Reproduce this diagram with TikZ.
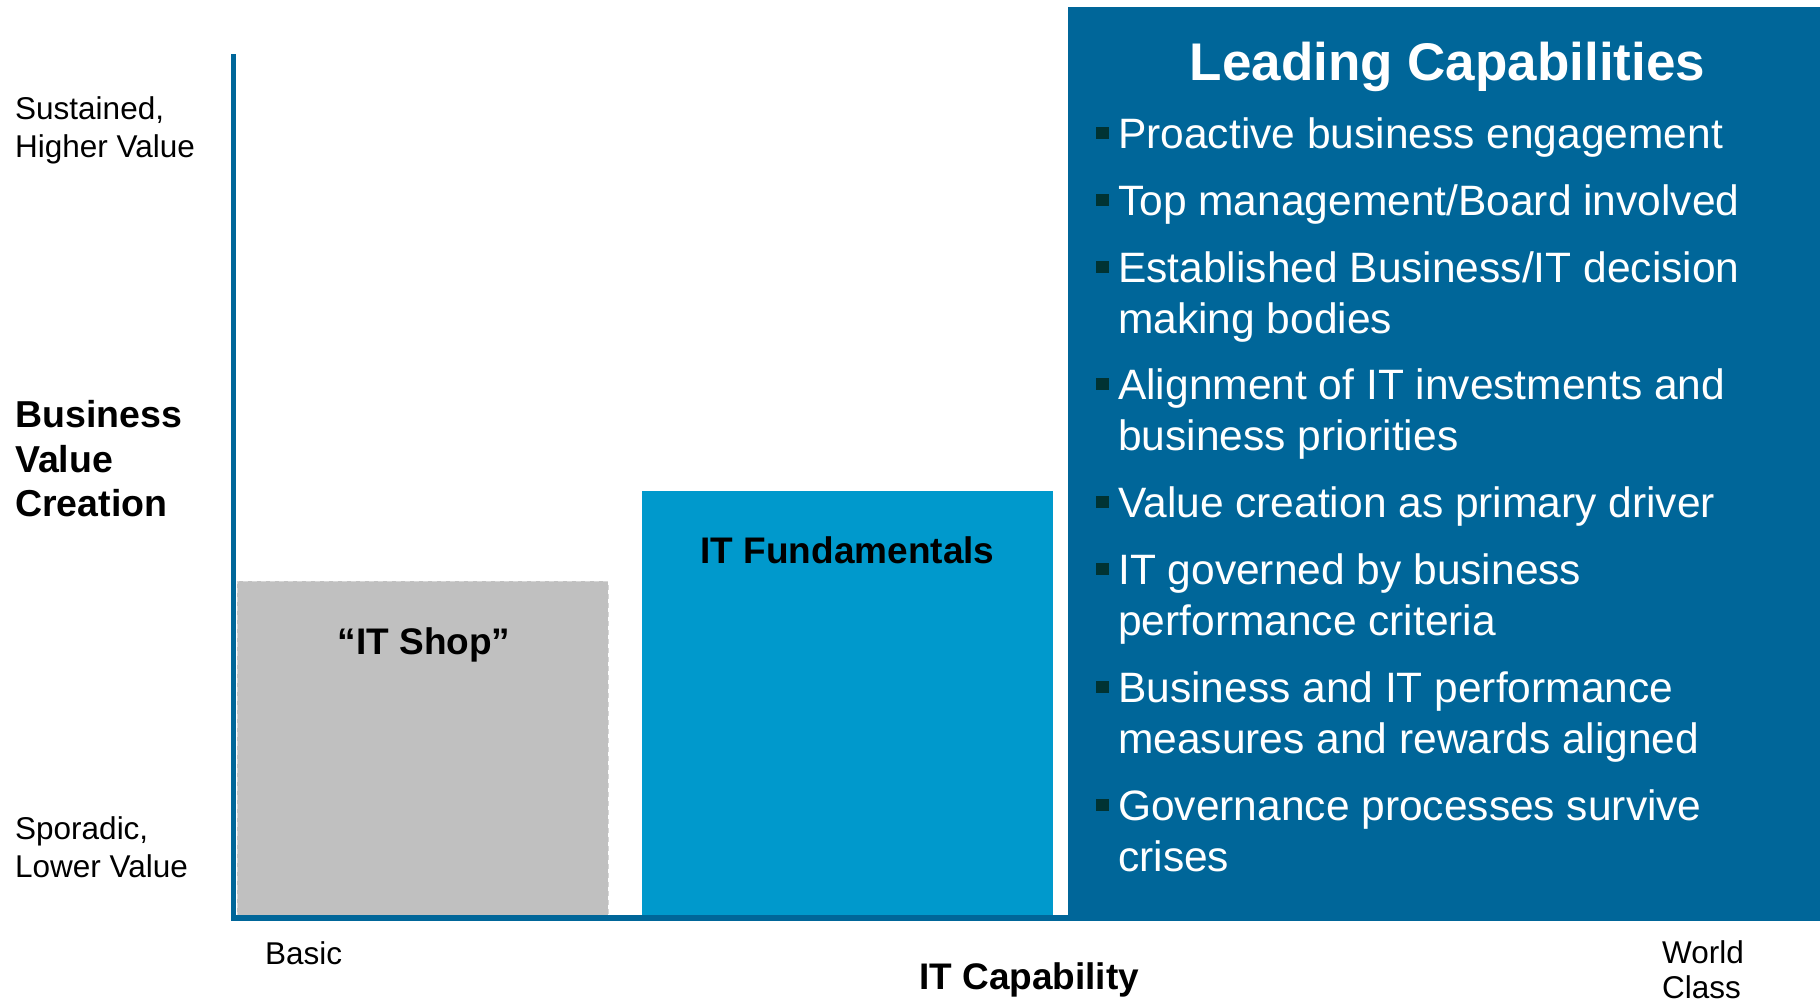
\documentclass[tikz,border=0pt]{standalone}
\usepackage{fontspec}
\setmainfont{Liberation Sans}
\definecolor{deepblue}{HTML}{006699}
\definecolor{midblue}{HTML}{0099CC}
\definecolor{shopgray}{HTML}{C0C0C0}
\definecolor{shopedge}{HTML}{D6D6D6}
\definecolor{bulletc}{HTML}{003333}
\begin{document}
\begin{tikzpicture}[x=1pt, y=-1pt,
  block/.style={rectangle, inner sep=0pt, outer sep=0pt, draw=none, anchor=north west},
  axisline/.style={draw=deepblue, line width=5.5pt, line join=miter},
  sidetext/.style={inner sep=0pt, anchor=base west, font=\fontsize{31.5}{36}\selectfont},
  sidebold/.style={inner sep=0pt, anchor=base west, font=\fontsize{37.5}{43}\selectfont\bfseries},
  boxlabel/.style={inner sep=0pt, anchor=base, font=\fontsize{37}{43}\selectfont\bfseries},
  itemtext/.style={inner sep=0pt, anchor=base west, text=white, font=\fontsize{42.5}{51}\selectfont},
  bsq/.style={fill=bulletc}
]
\useasboundingbox[fill=white] (0,0) rectangle (1820,1004);

% value bars
\node[block, fill=shopgray, minimum width=371pt, minimum height=336pt] (shop) at (237,581) {};
\draw[shopedge, line width=1pt, dash pattern=on 5pt off 4pt]
  (shop.south west) -- (shop.north west) -- (shop.north east) -- (shop.south east);
\node[block, fill=midblue, minimum width=411pt, minimum height=425pt] (fund) at (642,491) {};
\node[block, fill=deepblue, minimum width=752pt, minimum height=914pt] (lead) at (1068,7) {};

% axes
\coordinate (ytop) at (233.5,54);
\coordinate (orig) at (233.5,918);
\coordinate (xend) at (1820,918);
\draw[axisline] (ytop) -- (orig) -- (xend);

% bar titles
\node[boxlabel] (shoplbl) at (424,654) {“IT Shop”};
\node[boxlabel] (fundlbl) at (847.5,563) {IT Fundamentals};
\node[inner sep=0pt, anchor=base, text=white, font=\fontsize{53}{60}\selectfont\bfseries]
  (leadlbl) at (1447.5,80) {Leading Capabilities};

% leading capabilities list
\foreach \y/\n in {148/1, 215/2, 282/3, 399/4, 517/5, 584/6, 702/7, 820/8}
  \fill[bsq] (1096,\y-21) rectangle (1109,\y-9);
\node[itemtext] (i1a) at (1118,148) {Proactive business engagement};
\node[itemtext] (i2a) at (1118,215) {Top management/Board involved};
\node[itemtext] (i3a) at (1118,282) {Established Business/IT decision};
\node[itemtext] (i3b) at (1118,333) {making bodies};
\node[itemtext] (i4a) at (1118,399) {Alignment of IT investments and};
\node[itemtext] (i4b) at (1118,450) {business priorities};
\node[itemtext] (i5a) at (1118,517) {Value creation as primary driver};
\node[itemtext] (i6a) at (1118,584) {IT governed by business};
\node[itemtext] (i6b) at (1118,635) {performance criteria};
\node[itemtext] (i7a) at (1118,702) {Business and IT performance};
\node[itemtext] (i7b) at (1118,753) {measures and rewards aligned};
\node[itemtext] (i8a) at (1118,820) {Governance processes survive};
\node[itemtext] (i8b) at (1118,871) {crises};

% vertical axis labels
\node[sidetext] (hi1) at (15,119) {Sustained,};
\node[sidetext] (hi2) at (15,157) {Higher Value};
\node[sidebold] (bv1) at (15,427) {Business};
\node[sidebold] (bv2) at (15,472) {Value};
\node[sidebold] (bv3) at (15,516) {Creation};
\node[sidetext] (lo1) at (15,839) {Sporadic,};
\node[sidetext] (lo2) at (15,877) {Lower Value};

% horizontal axis labels
\node[sidetext] (basic) at (265,964) {Basic};
\node[sidebold, font=\fontsize{37}{43}\selectfont\bfseries] (itcap) at (919,989) {IT Capability};
\node[sidetext] (wc1) at (1662,963) {World};
\node[sidetext] (wc2) at (1662,998) {Class};
\end{tikzpicture}
\end{document}
